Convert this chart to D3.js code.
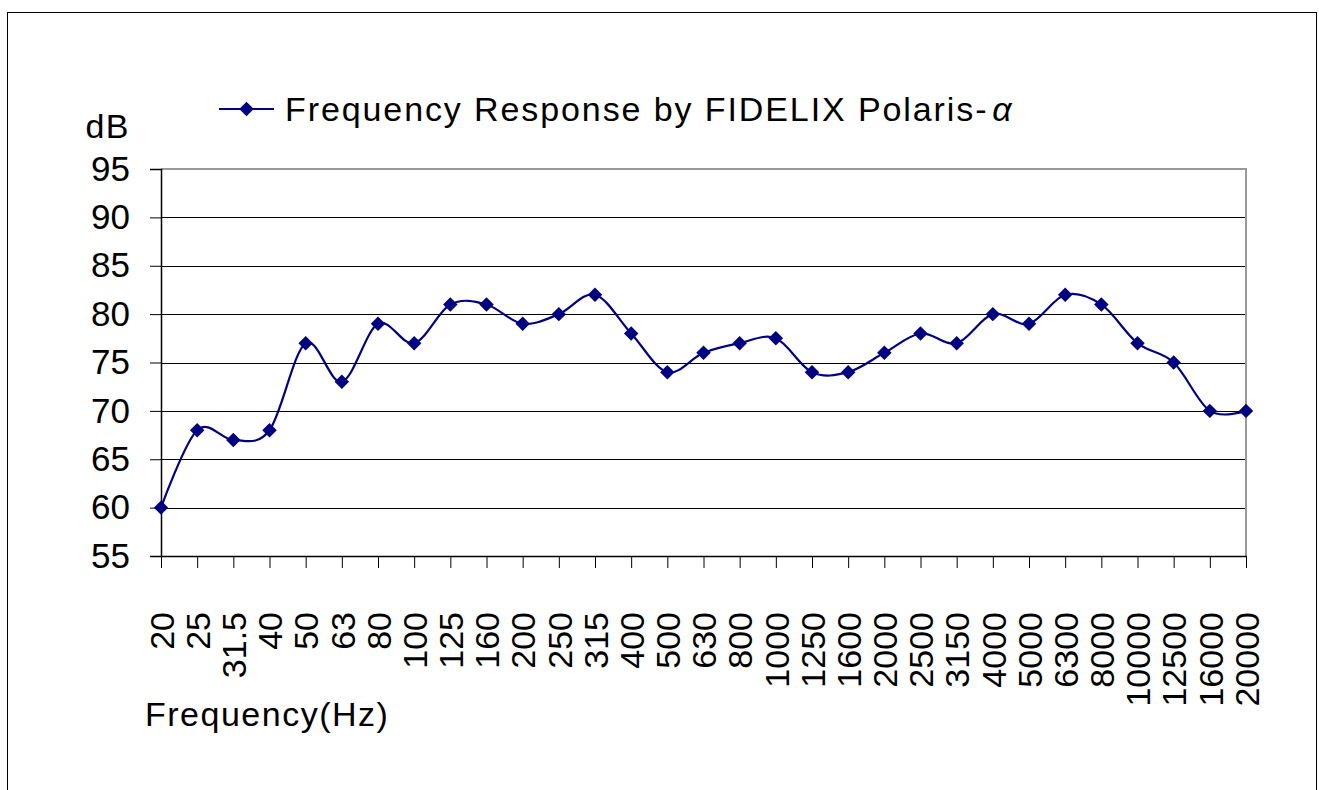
<!DOCTYPE html>
<html>
<head>
<meta charset="utf-8">
<script src="https://cdn.jsdelivr.net/npm/d3@7"></script>
<style>
  body { margin: 0; background: #fff; }
  svg text { font-family: "Liberation Sans", Arial, sans-serif; fill: #000; }
</style>
</head>
<body>
<svg id="svg1" width="1319" height="790"></svg>
<script>
// data
var freqs = ['20','25','31.5','40','50','63','80','100','125','160','200','250','315','400','500','630',
    '800','1000','1250','1600','2000','2500','3150','4000','5000','6300','8000','10000','12500','16000','20000'];
var dbValues = [60,68,67,68,77,73,79,77,81,81,79,80,82,78,74,76,
    77,77.5,74,74,76,78,77,80,79,82,81,77,75,70,70];
var yTicks = [55,60,65,70,75,80,85,90,95];
var seriesName = 'Frequency Response by FIDELIX Polaris-';
var seriesSuffix = '\u03b1';

var svg = d3.select('#svg1');
var navy = '#000080';
var fontSize = '34px';

// outer frame of the chart
svg.append('rect')
    .attr('x', 7.5).attr('y', 12.5)
    .attr('width', 1309).attr('height', 800)
    .attr('fill', 'none').attr('stroke', '#000').attr('stroke-width', 1);

var plotLeft = 161, plotRight = 1246, plotTop = 169, plotBottom = 556;

var x = d3.scalePoint().domain(freqs).range([plotLeft, plotRight]);
var y = d3.scaleLinear().domain([55, 95]).range([plotBottom, plotTop]);

// gridlines
svg.append('g')
    .selectAll('line')
    .data(yTicks.filter(function(d) { return d > 55 && d < 95; }))
    .enter().append('line')
    .attr('x1', plotLeft).attr('x2', plotRight)
    .attr('y1', function(d) { return Math.round(y(d)) + 0.5; })
    .attr('y2', function(d) { return Math.round(y(d)) + 0.5; })
    .attr('stroke', '#000').attr('stroke-width', 1);

// plot border (grey top / right)
svg.append('path')
    .attr('d', 'M' + plotLeft + ',' + plotTop + 'H' + plotRight + 'V' + plotBottom)
    .attr('fill', 'none').attr('stroke', '#999').attr('stroke-width', 2);

// y axis
var yAxis = svg.append('g')
    .attr('transform', 'translate(' + plotLeft + ',0)')
    .call(d3.axisLeft(y).tickValues(yTicks).tickSize(11).tickPadding(20));
yAxis.select('.domain').attr('stroke', '#000').attr('stroke-width', 1.5);
yAxis.selectAll('.tick line').attr('stroke', '#000');
yAxis.selectAll('text')
    .style('font-size', '35px')
    .style('font-family', '"Liberation Sans", Arial, sans-serif')
    .attr('fill', '#000');

// x axis
var xAxis = svg.append('g')
    .attr('transform', 'translate(0,' + plotBottom + ')')
    .call(d3.axisBottom(x).tickSize(12).tickSizeOuter(0));
xAxis.select('.domain').attr('stroke', '#000').attr('stroke-width', 1.5);
xAxis.selectAll('.tick line').attr('stroke', '#000');
xAxis.selectAll('text')
    .style('font-size', fontSize)
    .style('font-family', '"Liberation Sans", Arial, sans-serif')
    .attr('fill', '#000')
    .attr('text-anchor', 'end')
    .attr('dy', '0.36em')
    .attr('transform', 'translate(0,56) rotate(-90)')
    .attr('x', 0).attr('y', 0);

// axis titles
svg.append('text').attr('x', 130).attr('y', 138)
    .attr('text-anchor', 'end')
    .style('font-size', fontSize).style('letter-spacing', '1.5px').text('dB');
svg.append('text').attr('x', 145).attr('y', 726)
    .style('font-size', fontSize).style('letter-spacing', '1.5px').text('Frequency(Hz)');

// smoothed line
var line = d3.line()
    .x(function(d, i) { return x(freqs[i]); })
    .y(function(d) { return y(d); })
    .curve(d3.curveCatmullRom.alpha(0));

svg.append('path')
    .datum(dbValues)
    .attr('d', line)
    .attr('fill', 'none')
    .attr('stroke', navy)
    .attr('stroke-width', 2.2);

var diamond = d3.symbol().type(d3.symbolSquare).size(105);
svg.append('g')
    .selectAll('path')
    .data(dbValues)
    .enter().append('path')
    .attr('d', diamond)
    .attr('transform', function(d, i) {
        return 'translate(' + x(freqs[i]) + ',' + y(d) + ') rotate(45)';
    })
    .attr('fill', navy);

// legend
var legend = svg.append('g').attr('transform', 'translate(219,109)');
legend.append('line').attr('x1', 0).attr('x2', 55)
    .attr('stroke', navy).attr('stroke-width', 2.2);
legend.append('path').attr('d', diamond)
    .attr('transform', 'translate(27.5,0) rotate(45)')
    .attr('fill', navy);
var legendText = legend.append('text').attr('x', 66).attr('y', 12)
    .style('font-size', fontSize).style('letter-spacing', '1.9px');
legendText.append('tspan').text(seriesName);
legendText.append('tspan').attr('dx', 4).style('font-style', 'italic').text(seriesSuffix);
</script>
</body>
</html>
